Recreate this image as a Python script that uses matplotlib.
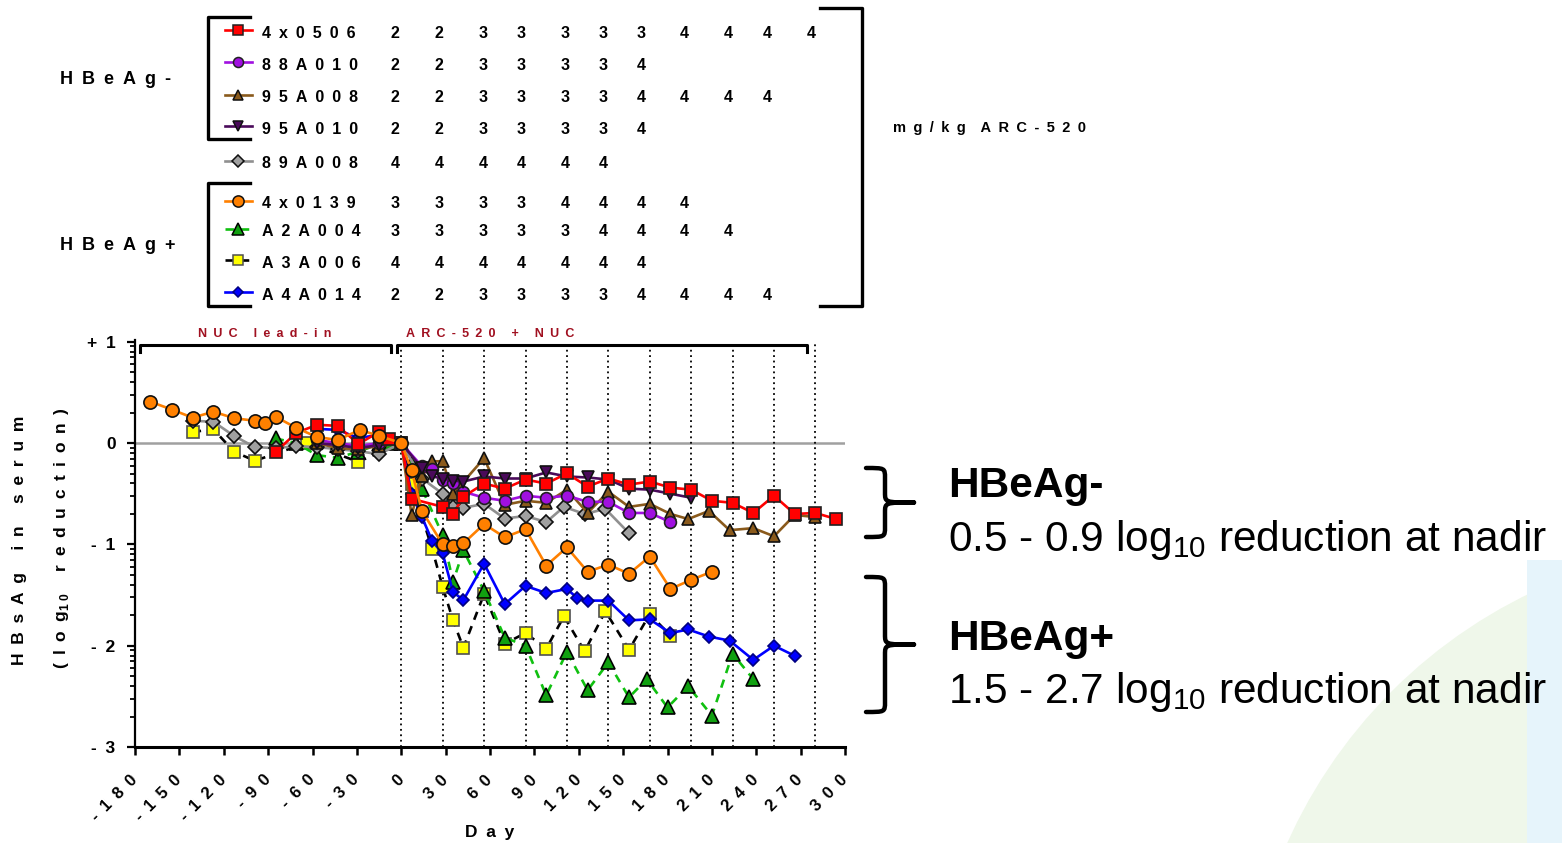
import numpy as np
import matplotlib
matplotlib.use('Agg')
import matplotlib.pyplot as plt
from matplotlib.path import Path
from matplotlib.patches import PathPatch, Circle, Rectangle

plt.rcParams['font.family'] = ['Liberation Sans', 'DejaVu Sans']
plt.rcParams['mathtext.fontset'] = 'custom'
plt.rcParams['mathtext.rm'] = 'Liberation Sans'
plt.rcParams['mathtext.bf'] = 'Liberation Sans:bold'

# ---- data (day, log10 change in HBsAg) ----
days_4x0506 = [-85, -71, -57, -43, -29, -15, -8, 0, 7, 28, 35, 42, 56, 70, 84, 98, 112, 126,
               140, 154, 168, 182, 196, 210, 224, 238, 252, 266, 280, 294]
vals_4x0506 = [-0.09, 0.10, 0.18, 0.17, -0.01, 0.11, 0.04, 0.0, -0.55, -0.63, -0.70, -0.53,
               -0.40, -0.45, -0.36, -0.40, -0.30, -0.43, -0.35, -0.41, -0.38, -0.44, -0.46,
               -0.57, -0.59, -0.69, -0.52, -0.70, -0.69, -0.75]

days_88A010 = [-57, -43, -29, -15, 0, 14, 21, 28, 35, 42, 56, 70, 84, 98, 112, 126, 140, 154, 168, 182]
vals_88A010 = [0.03, 0.0, -0.03, 0.0, 0.0, -0.23, -0.26, -0.36, -0.39, -0.48, -0.54, -0.57,
               -0.52, -0.54, -0.52, -0.58, -0.58, -0.69, -0.69, -0.78]

days_95A008 = [-57, -43, -29, -15, 0, 7, 14, 21, 28, 35, 56, 70, 84, 98, 112, 126, 140, 154,
               168, 182, 194, 208, 222, 238, 252, 266, 280]
vals_95A008 = [0.0, -0.05, -0.06, -0.03, 0.0, -0.71, -0.33, -0.18, -0.18, -0.50, -0.15, -0.61,
               -0.57, -0.59, -0.46, -0.69, -0.48, -0.63, -0.60, -0.70, -0.75, -0.67, -0.86,
               -0.84, -0.92, -0.71, -0.73]

days_95A010 = [-57, -43, -29, -15, 0, 14, 21, 28, 35, 42, 56, 70, 84, 98, 112, 126, 140, 154, 168, 182, 196]
vals_95A010 = [0.0, -0.02, -0.05, -0.02, 0.0, -0.25, -0.33, -0.35, -0.37, -0.38, -0.33, -0.35,
               -0.35, -0.29, -0.33, -0.34, -0.36, -0.45, -0.46, -0.50, -0.54]

days_89A008 = [-141, -127, -113, -99, -85, -71, -57, -43, -29, -15, 0, 14, 28, 35, 42, 56, 70,
               84, 98, 110, 124, 138, 154]
vals_89A008 = [0.22, 0.21, 0.07, -0.04, -0.05, -0.03, -0.04, -0.06, -0.08, -0.11, 0.0, -0.35,
               -0.50, -0.63, -0.64, -0.60, -0.745, -0.72, -0.78, -0.63, -0.70, -0.65, -0.89]

days_4x0139 = [-170, -155, -141, -127, -113, -99, -92, -85, -71, -57, -43, -28, -15, 0, 7, 14,
               28, 35, 42, 56, 70, 84, 98, 112, 126, 140, 154, 168, 182, 196, 210]
vals_4x0139 = [0.41, 0.33, 0.25, 0.31, 0.245, 0.22, 0.195, 0.26, 0.15, 0.06, 0.03, 0.13, 0.07,
               0.0, -0.27, -0.67, -1.00, -1.02, -0.99, -0.80, -0.93, -0.85, -1.21, -1.03,
               -1.27, -1.20, -1.29, -1.12, -1.44, -1.35, -1.27]

days_A2A004 = [-85, -71, -57, -43, -29, -15, -7, 0, 7, 14, 28, 35, 42, 56, 70, 84, 98, 112,
               126, 140, 154, 166, 180, 194, 210, 224, 238]
vals_A2A004 = [0.045, 0.0, -0.12, -0.145, -0.085, -0.01, 0.0, 0.0, -0.2, -0.45, -0.91, -1.37,
               -1.06, -1.46, -1.92, -2.0, -2.49, -2.06, -2.44, -2.165, -2.51, -2.33, -2.61,
               -2.40, -2.69, -2.08, -2.33]

days_A3A006 = [-141, -127, -113, -99, -64, -29, 0, 7, 21, 28, 35, 42, 56, 70, 84, 98, 110,
               124, 138, 154, 168, 182]
vals_A3A006 = [0.11, 0.135, -0.085, -0.175, 0.0, -0.185, 0.0, -0.40, -1.05, -1.42, -1.75,
               -2.02, -1.49, -1.98, -1.875, -2.03, -1.71, -2.055, -1.66, -2.04, -1.69, -1.90]

days_A4A014 = [-57, -43, -29, -15, 0, 7, 14, 21, 28, 35, 42, 56, 70, 84, 98, 112, 119, 126,
               140, 154, 168, 182, 194, 208, 222, 238, 252, 266]
vals_A4A014 = [0.14, 0.13, 0.05, 0.08, 0.0, -0.50, -0.73, -0.97, -1.09, -1.47, -1.55, -1.19,
               -1.59, -1.41, -1.48, -1.44, -1.53, -1.555, -1.555, -1.75, -1.74, -1.875, -1.84,
               -1.91, -1.95, -2.14, -2.0, -2.10]

# mg/kg ARC-520 doses per patient
doses = {
    '4x0506': [2, 2, 3, 3, 3, 3, 3, 4, 4, 4, 4],
    '88A010': [2, 2, 3, 3, 3, 3, 4],
    '95A008': [2, 2, 3, 3, 3, 3, 4, 4, 4, 4],
    '95A010': [2, 2, 3, 3, 3, 3, 4],
    '89A008': [4, 4, 4, 4, 4, 4],
    '4x0139': [3, 3, 3, 3, 4, 4, 4, 4],
    'A2A004': [3, 3, 3, 3, 3, 4, 4, 4, 4],
    'A3A006': [4, 4, 4, 4, 4, 4, 4],
    'A4A014': [2, 2, 3, 3, 3, 3, 4, 4, 4, 4],
}
dose_days = [0, 28, 56, 84, 112, 140, 168, 196, 224, 252, 280]
legend_order = ['4x0506', '88A010', '95A008', '95A010', '89A008',
                '4x0139', 'A2A004', 'A3A006', 'A4A014']

data = {
    '4x0506': (days_4x0506, vals_4x0506),
    '88A010': (days_88A010, vals_88A010),
    '95A008': (days_95A008, vals_95A008),
    '95A010': (days_95A010, vals_95A010),
    '89A008': (days_89A008, vals_89A008),
    '4x0139': (days_4x0139, vals_4x0139),
    'A2A004': (days_A2A004, vals_A2A004),
    'A3A006': (days_A3A006, vals_A3A006),
    'A4A014': (days_A4A014, vals_A4A014),
}

# line colour, linestyle, marker, face, edge, marker size
styles = {
    '4x0506': ('#ff0000', '-', 's', '#ff0000', '#202020', 8),
    '88A010': ('#a010e0', '-', 'o', '#a010e0', '#202020', 8.5),
    '95A008': ('#8a5a1c', '-', '^', '#8a5a1c', '#101010', 9),
    '95A010': ('#4a0a5a', '-', 'v', '#4a0a5a', '#101010', 9),
    '89A008': ('#909090', '-', 'D', '#a0a0a0', '#101010', 7.5),
    '4x0139': ('#ff8000', '-', 'o', '#ff8000', '#101010', 9.5),
    'A2A004': ('#10c010', (0, (3.2, 2.6)), '^', '#10a010', '#000000', 10),
    'A3A006': ('#000000', (0, (3.2, 2.6)), 's', '#ffff00', '#505050', 8.5),
    'A4A014': ('#0000ff', '-', 'D', '#0000ff', '#000080', 6.5),
}
draw_order = ['A3A006', 'A2A004', 'A4A014', '89A008', '95A008', '88A010',
              '95A010', '4x0506', '4x0139']


def sp(s):
    return '\u2002'.join(s)


fig = plt.figure(figsize=(15.62, 8.43), dpi=100)

# full-figure overlay in pixel coordinates for legend / annotations
ov = fig.add_axes([0, 0, 1, 1], zorder=0)
ov.set_xlim(0, 1562)
ov.set_ylim(843, 0)
ov.axis('off')

# faint background logo
ov.add_patch(Circle((1750, 1050), 507, color='#eff7ea', lw=0))
ov.add_patch(Rectangle((1527, 560), 40, 290, color='#e6f4fb', lw=0))

# ---- main plot ----
ax = fig.add_axes([135 / 1562, 96 / 843, 710 / 1562, 407.3 / 843], zorder=1)
ax.set_facecolor('none')
ax.set_xlim(-180, 300)
ax.set_ylim(-3, 1.02)

ax.axhline(0, color='#a0a0a0', lw=1.8, zorder=1)
ax.vlines(dose_days, -3, 1.0, colors='black', linestyles=(0, (1, 2)), lw=1.3, zorder=1)

for i, name in enumerate(draw_order):
    d, v = data[name]
    lc, ls, m, fc, ec, ms = styles[name]
    ax.plot(d, v, color=lc, ls=ls, lw=1.9, marker=m, ms=ms, mfc=fc, mec=ec,
            mew=1.2, zorder=3 + i)

# phase brackets
ax.plot([-176.5, -176.5, -6.8, -6.8], [0.90, 0.967, 0.967, 0.90], color='black',
        lw=2.2, clip_on=False, zorder=20)
ax.plot([-2.9, -2.9, 274.5, 274.5], [0.90, 0.967, 0.967, 0.90], color='black',
        lw=2.2, clip_on=False, zorder=20)
ax.text(-92, 1.075, sp('NUC lead-in'), color='#a01020', fontsize=9, fontweight='bold',
        ha='center', va='center', clip_on=False)
ax.text(60, 1.075, sp('ARC-520 + NUC'), color='#a01020', fontsize=9, fontweight='bold',
        ha='center', va='center', clip_on=False)

xt = np.arange(-180, 301, 30)
ax.set_xticks(xt)
ax.set_xticklabels([sp(str(t)) for t in xt], rotation=45, ha='right', va='center',
                   rotation_mode='anchor', fontsize=12, fontweight='bold')
yt = [-3, -2, -1, 0, 1]
ax.set_yticks(yt)
ax.set_yticklabels([sp('-3'), sp('-2'), sp('-1'), '0', sp('+1')], fontsize=12.5,
                   fontweight='bold')
ax.set_yticks([n + np.log10(k) for n in range(-3, 1) for k in range(2, 10)], minor=True)
ax.tick_params(axis='x', which='major', length=6, width=1.8, pad=16)
ax.tick_params(axis='y', which='major', length=6, width=1.6, pad=8)
ax.tick_params(axis='y', which='minor', length=3.5, width=1.3)
for side in ['top', 'right']:
    ax.spines[side].set_visible(False)
ax.spines['left'].set_linewidth(1.6)
ax.spines['bottom'].set_linewidth(2.2)

ax.set_xlabel(sp('Day'), fontsize=12.5, fontweight='bold', labelpad=1)
fig.text(20 / 1562, 1 - 540 / 843, sp('HBsAg in serum'), rotation=90, fontsize=12.5,
         fontweight='bold', ha='center', va='center')
fig.text(62 / 1562, 1 - 538 / 843, sp('(log') + r'$_{\mathbf{1\;0}}$' + '\u2002' + sp(' reduction)'),
         rotation=90, fontsize=12.5, fontweight='bold', ha='center', va='center')

# ---- dosing legend table at top ----
row_y = [33, 65, 98, 129, 164, 204, 232, 263, 295]
col_x = [395, 439, 483, 521, 565, 603, 641, 684, 728, 767, 811]
for name, y in zip(legend_order, row_y):
    lc, ls, m, fc, ec, ms = styles[name]
    ov.plot([225, 252], [y - 3, y - 3], color=lc, ls=ls, lw=1.9)
    ov.plot([238], [y - 3], marker=m, ms=ms * 0.85, mfc=fc, mec=ec, mew=1.1, color=lc)
    ov.text(262, y, sp(name), fontsize=11.5, fontweight='bold', va='center', ha='left')
    for x, dd in zip(col_x, doses[name]):
        ov.text(x, y, str(dd), fontsize=11.5, fontweight='bold', va='center', ha='center')

ov.plot([250, 208, 208, 250], [17, 17, 139, 139], color='black', lw=2.4)
ov.plot([250, 208, 208, 250], [183, 183, 306, 306], color='black', lw=2.4)
ov.plot([820, 862, 862, 820], [8, 8, 306, 306], color='black', lw=2.4)
ov.text(60, 80, sp('HBeAg-'), fontsize=13, fontweight='bold', va='center')
ov.text(60, 245, sp('HBeAg+'), fontsize=13, fontweight='bold', va='center')
ov.text(893, 128, sp('mg/kg') + '\u2002\u2002' + sp('ARC-520'), fontsize=10.5,
        fontweight='bold', va='center')


# ---- curly braces + summary text on the right ----
def brace(x0, yt, yb, w1=19, w2=48, r=10):
    ym = (yt + yb) / 2
    xs = x0 + w1
    verts = [(x0, yt), (xs, yt), (xs, yt), (xs, yt + r),
             (xs, ym - r),
             (xs, ym), (xs, ym), (x0 + w2, ym),
             (xs, ym), (xs, ym), (xs, ym + r),
             (xs, yb - r),
             (xs, yb), (xs, yb), (x0, yb)]
    codes = [Path.MOVETO, Path.CURVE4, Path.CURVE4, Path.CURVE4,
             Path.LINETO,
             Path.CURVE4, Path.CURVE4, Path.CURVE4,
             Path.CURVE4, Path.CURVE4, Path.CURVE4,
             Path.LINETO,
             Path.CURVE4, Path.CURVE4, Path.CURVE4]
    ov.add_patch(PathPatch(Path(verts, codes), fill=False, lw=3.2, color='black',
                           capstyle='round', joinstyle='round'))


brace(866, 468, 537)
brace(866, 577, 712)
ov.text(948, 497, 'HBeAg-', fontsize=30.5, fontweight='bold', va='baseline')
ov.text(948, 551, '0.5 - 0.9 log$_{10}$ reduction at nadir', fontsize=30.5, va='baseline')
ov.text(948, 650, 'HBeAg+', fontsize=30.5, fontweight='bold', va='baseline')
ov.text(948, 703, '1.5 - 2.7 log$_{10}$ reduction at nadir', fontsize=30.5, va='baseline')

fig.savefig('out.png', dpi=100)
